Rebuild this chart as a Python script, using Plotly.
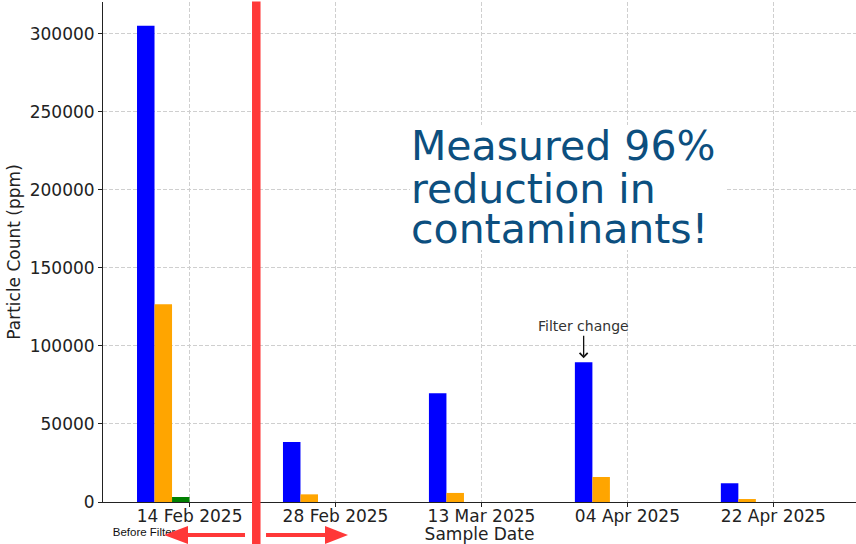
import plotly.graph_objects as go

dates = ["14 Feb 2025", "28 Feb 2025", "13 Mar 2025", "04 Apr 2025", "22 Apr 2025"]
size_a = [305000, 38400, 69700, 89500, 12000]   # blue
size_b = [126700, 4900, 5800, 16000, 1900]      # orange
size_c = [3200, 0, 0, 0, 0]                     # green
series = [("blue", size_a), ("orange", size_b), ("green", size_c)]
y_ticks = [0, 50000, 100000, 150000, 200000, 250000, 300000]
idx = list(range(len(dates)))

BAR_W = 0.12
FONT = "DejaVu Sans"

fig = go.Figure()
for k, (col, vals) in enumerate(series):
    fig.add_trace(go.Bar(
        x=idx, y=vals, width=BAR_W, offset=-0.36 + k * BAR_W,
        marker=dict(color=col, line=dict(width=0)), showlegend=False,
        hoverinfo="skip",
    ))

grid = dict(showgrid=True, gridcolor="#cfcfcf", gridwidth=1, griddash="4px,2px")

fig.update_layout(
    width=856, height=544,
    margin=dict(l=103, r=0, t=2, b=42),
    paper_bgcolor="white", plot_bgcolor="white",
    barmode="overlay",
    font=dict(family=FONT, size=17, color="#222"),
    xaxis=dict(
        range=[-0.593, 4.566], tickmode="array", tickvals=idx, ticktext=dates,
        ticks="outside", ticklen=4, tickcolor="#222", showline=True,
        linecolor="#222", linewidth=1, zeroline=False, ticklabelstandoff=-5,
        title=dict(text="Sample Date", standoff=4, font=dict(size=17)),
        automargin=False, **grid,
    ),
    yaxis=dict(
        range=[0, 320250], tickmode="array", tickvals=y_ticks, tickformat="d",
        ticks="outside", ticklen=4, tickcolor="#222", showline=True,
        linecolor="#222", linewidth=1, zeroline=False,
        title=dict(text="Particle Count (ppm)", standoff=4, font=dict(size=17)),
        automargin=False, **grid,
    ),
)

red = "#ff3838"
shapes = [
    # white box behind headline
    dict(type="rect", xref="paper", yref="paper", x0=0.4077, x1=0.826,
         y0=0.504, y1=0.754, fillcolor="white", line=dict(width=0), layer="above"),
    # invisible box carrying the "Before Filter" label (drawn before the arrow)
    dict(type="rect", xref="paper", yref="paper", x0=0.009, x1=0.2,
         y0=-0.068, y1=-0.044, fillcolor="rgba(0,0,0,0)", line=dict(width=0),
         layer="above",
         label=dict(text="Before Filter", textposition="middle left",
                    padding=0,
                    font=dict(family="Liberation Sans, Arial", size=11.5, color="#111"))),
    # red divider
    dict(type="rect", xref="paper", yref="paper", x0=0.1979, x1=0.2092,
         y0=-0.09, y1=1.001, fillcolor=red, line=dict(width=0), layer="above"),
    # left arrow
    dict(type="line", xref="paper", yref="paper", x0=0.1886, x1=0.110,
         y0=-0.066, y1=-0.066, line=dict(color=red, width=4), layer="above"),
    dict(type="path", xref="paper", yref="paper",
         path="M 0.081,-0.066 L 0.1129,-0.048 L 0.1129,-0.084 Z",
         fillcolor=red, line=dict(width=0), layer="above"),
    # right arrow
    dict(type="line", xref="paper", yref="paper", x0=0.2165, x1=0.300,
         y0=-0.066, y1=-0.066, line=dict(color=red, width=4), layer="above"),
    dict(type="path", xref="paper", yref="paper",
         path="M 0.3254,-0.066 L 0.2948,-0.048 L 0.2948,-0.084 Z",
         fillcolor=red, line=dict(width=0), layer="above"),
]
fig.update_layout(shapes=shapes)

head_col = "#0c4f7f"
lines = ["Measured 96%", "reduction in", "contaminants!"]
ypos = [0.7124, 0.627, 0.5464]
for t, yy in zip(lines, ypos):
    fig.add_annotation(text=t, xref="paper", yref="paper", x=0.406, y=yy,
                       xanchor="left", yanchor="middle", showarrow=False,
                       font=dict(family=FONT, size=41, color=head_col))

fig.add_annotation(
    x=idx[3] - 0.3, y=size_a[3], xref="x", yref="y",
    text="Filter change", showarrow=True, arrowhead=4, arrowsize=1.2,
    arrowwidth=1.3, arrowcolor="#111", ax=0, ay=-36, standoff=4,
    font=dict(family=FONT, size=14, color="#333"),
)

fig.write_html(
    "out.html",
    config={"displayModeBar": False},
    post_script="document.body.style.margin='0';document.body.style.overflow='hidden';",
)
